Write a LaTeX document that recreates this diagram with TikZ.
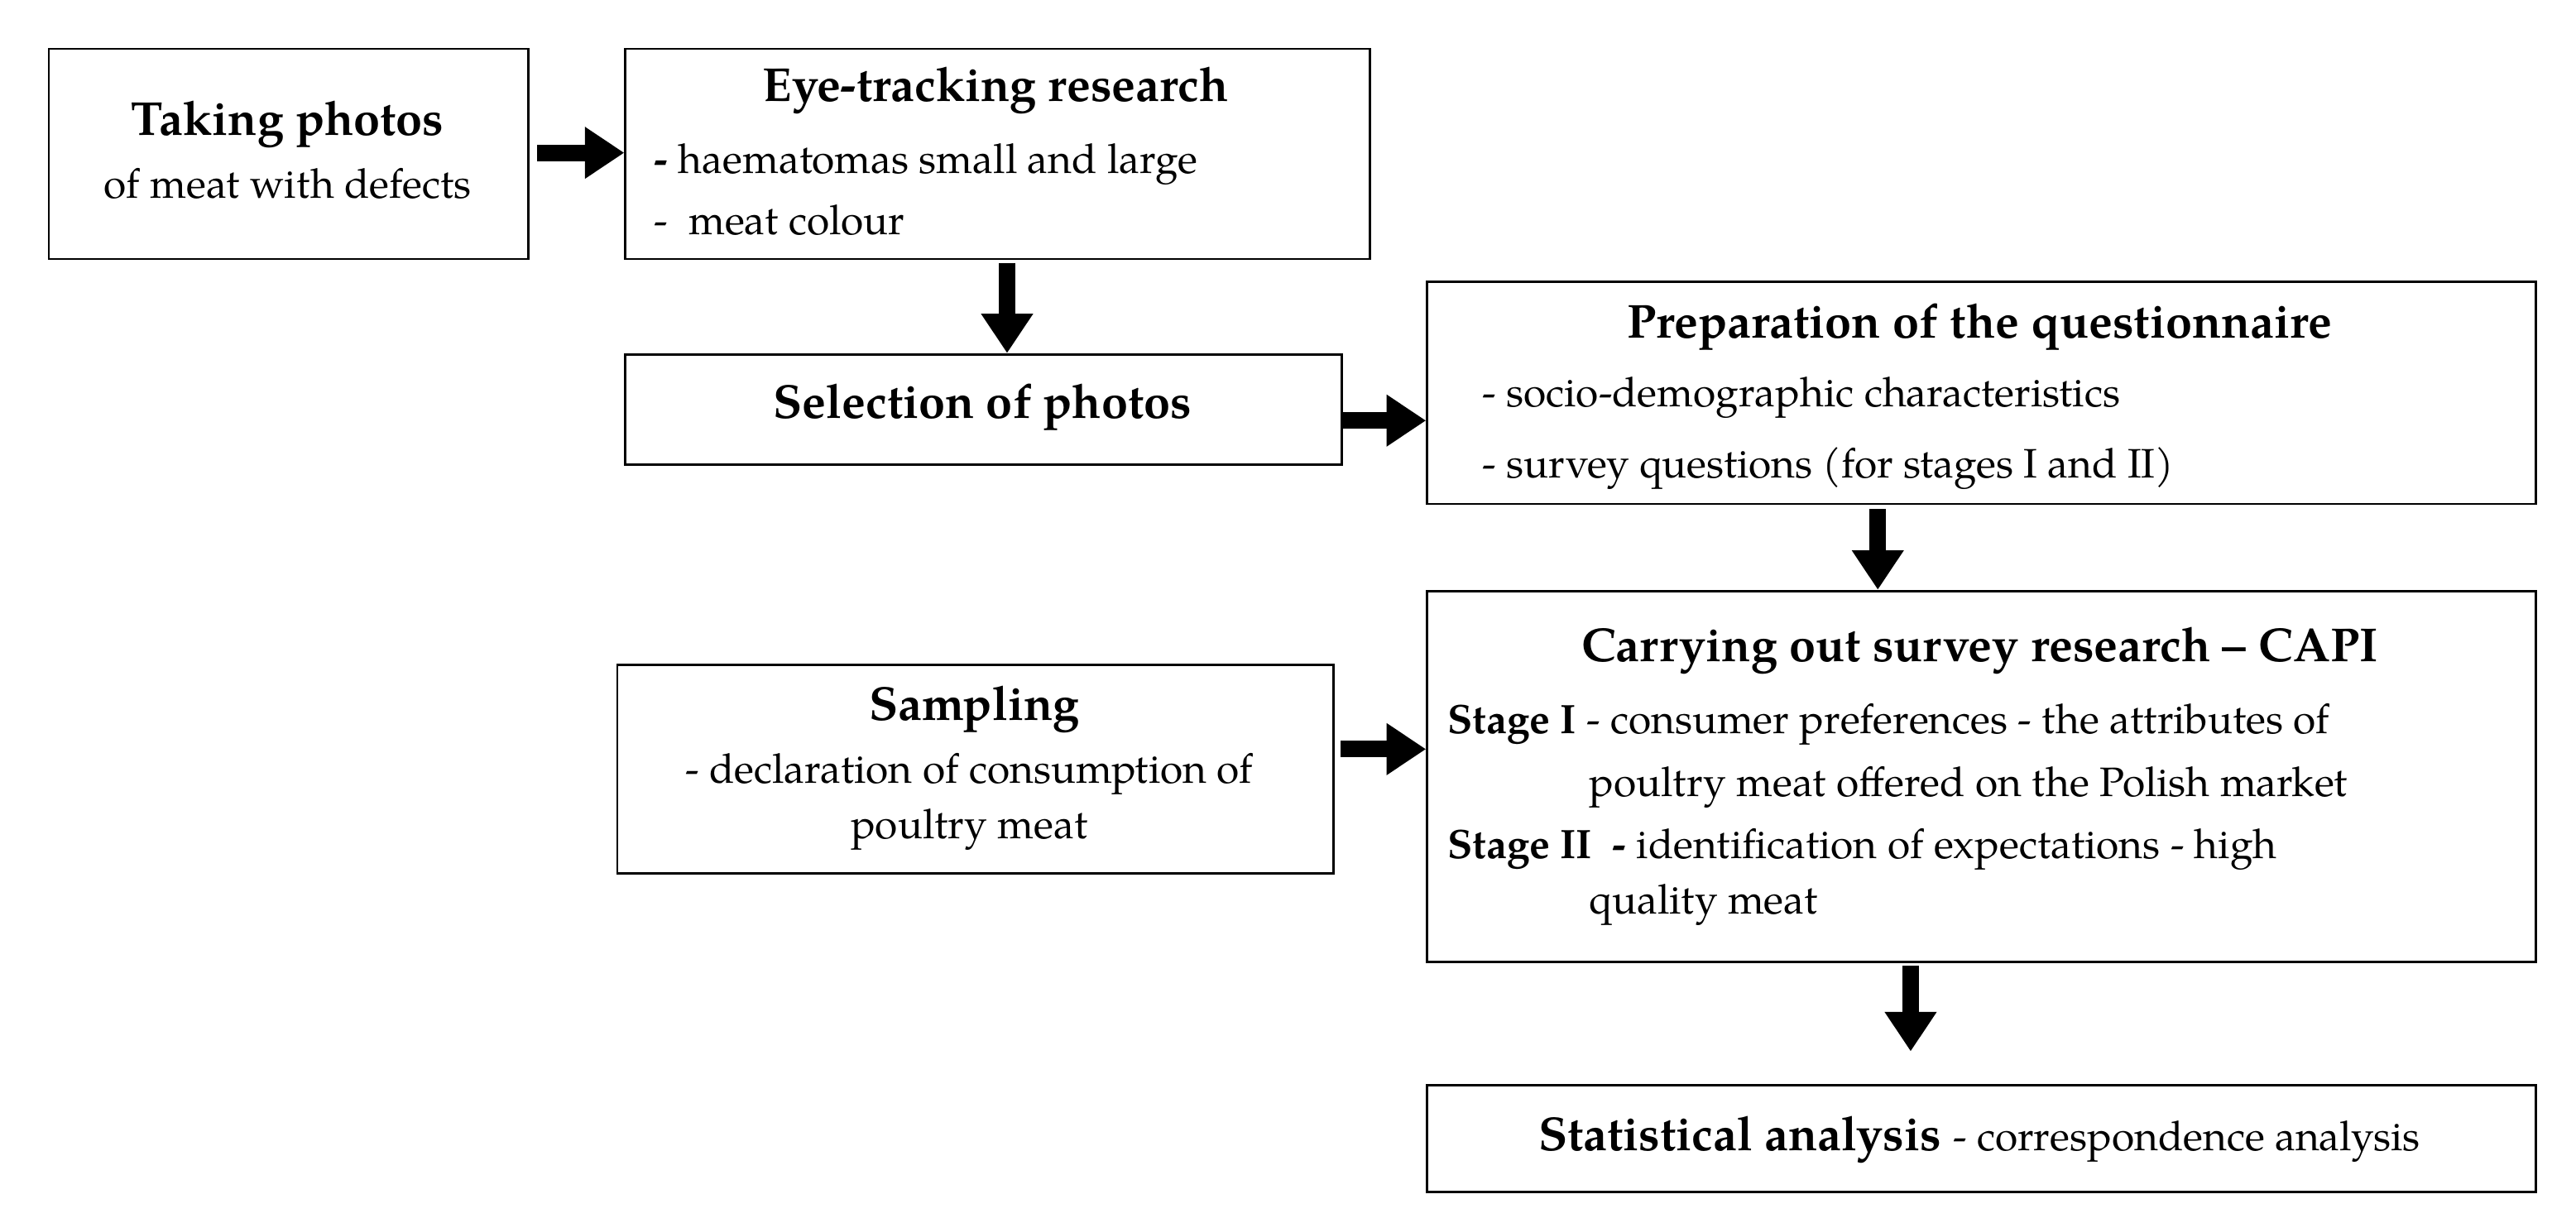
\documentclass[tikz,border=0pt]{standalone}
\usepackage{fontspec}
\setmainfont{TeX Gyre Pagella}
\usetikzlibrary{arrows.meta}
\begin{document}
\begin{tikzpicture}[x=0.5pt,y=-0.5pt,
  box/.style={draw,line width=0.7pt,anchor=north west,inner sep=0pt},
  ttl/.style={font=\fontsize{14.5}{16}\selectfont\bfseries},
  txt/.style={font=\fontsize{12.5}{15}\selectfont,anchor=west,inner sep=0pt},
  arr/.style={line width=5pt,-{Triangle[length=12pt,width=15pt]}}]
\useasboundingbox (0,0) rectangle (1568,744);
\node[box,minimum width=146pt,minimum height=64pt] (A) at (29,29) {};
\node[box,minimum width=226.5pt,minimum height=64pt] (B) at (380,29) {};
\node[box,minimum width=218pt,minimum height=33.5pt] (C) at (380,215) {};
\node[box,minimum width=337.5pt,minimum height=67.5pt] (D) at (868,171) {};
\node[box,minimum width=337.5pt,minimum height=113pt] (E) at (868,359) {};
\node[box,minimum width=218pt,minimum height=63.5pt] (F) at (375,404) {};
\node[box,minimum width=337.5pt,minimum height=32.5pt] (G) at (868,660) {};
% texts
\node[ttl] (a1) at (175,76) {Taking photos};
\node[font=\fontsize{12.5}{15}\selectfont] (a2) at (175,112) {of meat with defects};
\node[ttl] (b1) at (606,55) {Eye-tracking research};
\node[txt] (b2) at (398,100) {\textbf{-} haematomas small and large};
\node[txt] (b3) at (398,134) {-\ \ meat colour};
\node[ttl] (c1) at (598,248) {Selection of photos};
\node[ttl] (d1) at (1205,199) {Preparation of the questionnaire};
\node[txt] (d2) at (902,242) {- socio-demographic characteristics};
\node[txt] (d3) at (902,285) {- survey questions (for stages I and II)};
\node[ttl] (e1) at (1205,396) {Carrying out survey research -- CAPI};
\node[txt] (e2) at (881,441) {\textbf{Stage I} - consumer preferences - the attributes of};
\node[txt] (e3) at (967,479) {poultry meat offered on the Polish market};
\node[txt] (e4) at (881,517) {\textbf{Stage II\ \ -} identification of expectations - high};
\node[txt] (e5) at (967,551) {quality meat};
\node[ttl] (f1) at (593,432) {Sampling};
\node[font=\fontsize{12.5}{15}\selectfont,align=center] (f2) at (590,488) {- declaration of consumption of\\[2pt]poultry meat};
\node (g1) at (1205,694) {\fontsize{14.5}{16}\selectfont\textbf{Statistical analysis} \fontsize{12.5}{15}\selectfont - correspondence analysis};
% arrows
\coordinate (ab) at (327,93); \coordinate (bc) at (613,160);
\coordinate (cd) at (816,256); \coordinate (de) at (1143,310);
\coordinate (fe) at (816,456); \coordinate (eg) at (1163,588);
\coordinate (egend) at (1163,640);
\draw[arr] (ab) -- (B.west |- ab);
\draw[arr] (bc) -- (C.north -| bc);
\draw[arr] (cd) -- (D.west |- cd);
\draw[arr] (de) -- (E.north -| de);
\draw[arr] (fe) -- (E.west |- fe);
\draw[arr] (eg) -- (egend);
\end{tikzpicture}
\end{document}
